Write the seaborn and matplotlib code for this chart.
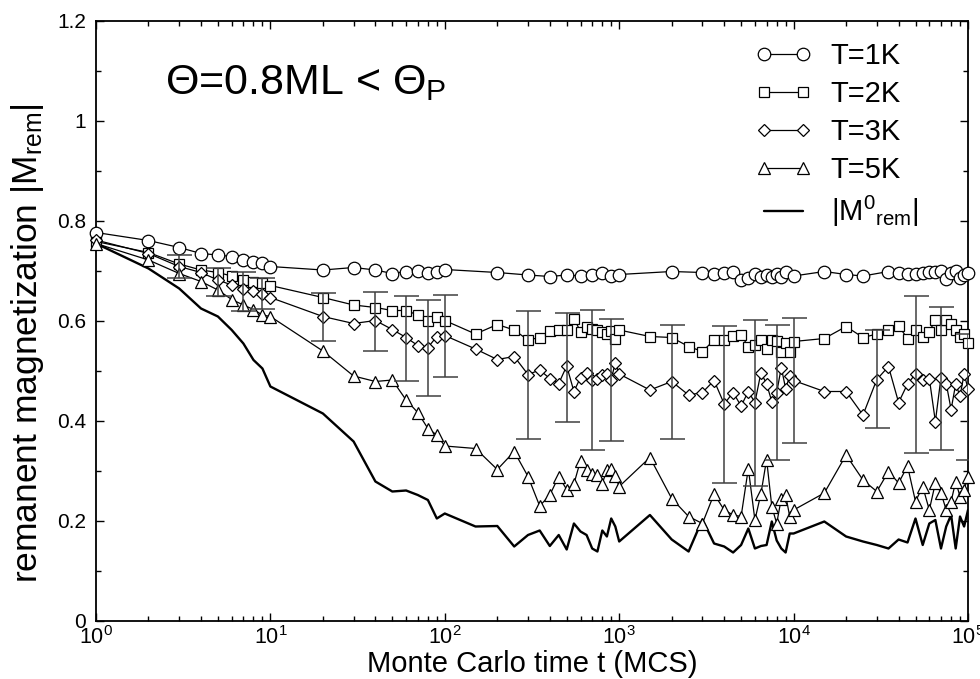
import matplotlib
matplotlib.use("Agg")
import numpy as np
import pandas as pd
import matplotlib.pyplot as plt
import seaborn as sns
from matplotlib.ticker import MultipleLocator, FixedLocator, FixedFormatter
from matplotlib.legend_handler import HandlerLine2D
from matplotlib.lines import Line2D

# ---------------- data ----------------
t_1K = [1, 2, 3, 4, 5, 6, 7, 8, 9, 10,
        20, 30, 40, 50, 60, 70, 80, 90, 100,
        200, 300, 400, 500, 600, 700, 800, 900, 1000,
        2000, 3000, 3500, 4000, 4500, 5000, 5500, 6000, 6500, 7000, 7500, 8000, 8500, 9000, 10000,
        15000, 20000, 25000, 35000, 40000, 45000, 50000, 55000, 60000, 65000, 70000, 75000,
        80000, 85000, 90000, 95000, 100000]
m_1K = [0.777, 0.761, 0.747, 0.735, 0.732, 0.729, 0.723, 0.719, 0.717, 0.709,
        0.702, 0.707, 0.702, 0.695, 0.699, 0.701, 0.697, 0.699, 0.703,
        0.697, 0.692, 0.689, 0.692, 0.690, 0.692, 0.697, 0.690, 0.693,
        0.699, 0.697, 0.694, 0.697, 0.699, 0.683, 0.687, 0.695, 0.688, 0.692, 0.688, 0.694, 0.688, 0.699, 0.690,
        0.699, 0.693, 0.690, 0.699, 0.696, 0.694, 0.695, 0.697, 0.698, 0.699, 0.701, 0.685,
        0.697, 0.701, 0.686, 0.693, 0.697]

t_grid = [1, 2, 3, 4, 5, 6, 7, 8, 9, 10,
          20, 30, 40, 50, 60, 70, 80, 90, 100,
          150, 200, 250, 300, 350, 400, 450, 500, 550, 600, 650, 700, 750, 800, 850, 900, 950, 1000,
          1500, 2000, 2500, 3000, 3500, 4000, 4500, 5000, 5500, 6000, 6500, 7000, 7500, 8000, 8500,
          9000, 9500, 10000,
          15000, 20000, 25000, 30000, 35000, 40000, 45000, 50000, 55000, 60000, 65000, 70000, 75000,
          80000, 85000, 90000, 95000, 100000]

m_2K = [0.759, 0.737, 0.714, 0.702, 0.697, 0.690, 0.682, 0.679, 0.677, 0.671,
        0.647, 0.632, 0.627, 0.621, 0.621, 0.612, 0.601, 0.609, 0.601,
        0.574, 0.593, 0.582, 0.562, 0.567, 0.581, 0.582, 0.583, 0.605, 0.579, 0.589, 0.585, 0.583,
        0.579, 0.574, 0.581, 0.565, 0.582,
        0.569, 0.567, 0.549, 0.539, 0.562, 0.563, 0.570, 0.572, 0.549, 0.552, 0.563, 0.545, 0.563,
        0.561, 0.539, 0.557, 0.539, 0.559,
        0.565, 0.589, 0.567, 0.574, 0.583, 0.590, 0.565, 0.582, 0.569, 0.579, 0.602, 0.583, 0.602,
        0.594, 0.582, 0.569, 0.575, 0.557]

m_3K = [0.762, 0.735, 0.709, 0.697, 0.682, 0.672, 0.665, 0.661, 0.654, 0.647,
        0.609, 0.595, 0.601, 0.583, 0.567, 0.551, 0.547, 0.569, 0.571,
        0.544, 0.523, 0.529, 0.493, 0.502, 0.485, 0.475, 0.510, 0.459, 0.487, 0.497, 0.483, 0.485,
        0.492, 0.495, 0.483, 0.517, 0.494,
        0.462, 0.479, 0.452, 0.457, 0.481, 0.434, 0.457, 0.430, 0.459, 0.437, 0.497, 0.474, 0.439,
        0.457, 0.507, 0.465, 0.490, 0.481,
        0.459, 0.459, 0.412, 0.483, 0.509, 0.437, 0.474, 0.494, 0.483, 0.485, 0.399, 0.487, 0.475,
        0.423, 0.474, 0.450, 0.494, 0.465]

m_5K = [0.755, 0.722, 0.695, 0.679, 0.662, 0.643, 0.632, 0.623, 0.612, 0.609,
        0.540, 0.490, 0.479, 0.482, 0.442, 0.417, 0.385, 0.372, 0.350,
        0.345, 0.303, 0.339, 0.289, 0.230, 0.252, 0.289, 0.263, 0.274, 0.321, 0.302, 0.295, 0.292,
        0.275, 0.302, 0.305, 0.290, 0.269,
        0.327, 0.245, 0.209, 0.195, 0.254, 0.222, 0.212, 0.209, 0.305, 0.202, 0.255, 0.323, 0.229,
        0.195, 0.245, 0.252, 0.209, 0.222,
        0.256, 0.332, 0.282, 0.259, 0.299, 0.276, 0.310, 0.239, 0.269, 0.222, 0.276, 0.256, 0.222,
        0.239, 0.279, 0.249, 0.262, 0.288]

m_rem0 = [0.755, 0.705, 0.665, 0.625, 0.609, 0.582, 0.555, 0.522, 0.505, 0.469,
          0.415, 0.359, 0.279, 0.259, 0.261, 0.252, 0.242, 0.205, 0.215,
          0.189, 0.190, 0.149, 0.172, 0.181, 0.150, 0.172, 0.143, 0.195, 0.179, 0.172, 0.145, 0.139,
          0.181, 0.169, 0.205, 0.189, 0.159,
          0.212, 0.163, 0.139, 0.203, 0.155, 0.149, 0.137, 0.152, 0.185, 0.145, 0.150, 0.152, 0.199,
          0.161, 0.145, 0.137, 0.175, 0.175,
          0.199, 0.169, 0.159, 0.152, 0.145, 0.163, 0.157, 0.205, 0.152, 0.195, 0.202, 0.145, 0.189,
          0.212, 0.145, 0.209, 0.189, 0.222]

# error bars (T=3K series)
err_t = [3, 5, 7, 9, 20, 40, 60, 80, 100, 300, 500, 700, 900, 2000, 4000, 6000, 8000, 10000,
         30000, 50000, 70000, 100000]
err_m = [0.709, 0.678, 0.659, 0.656, 0.609, 0.600, 0.566, 0.546, 0.571, 0.493, 0.508, 0.483,
         0.483, 0.479, 0.434, 0.437, 0.457, 0.481, 0.485, 0.494, 0.485, 0.449]
err_d = [0.023, 0.028, 0.038, 0.031, 0.048, 0.059, 0.085, 0.096, 0.082, 0.128, 0.109, 0.140,
         0.122, 0.114, 0.157, 0.166, 0.135, 0.125, 0.098, 0.157, 0.143, 0.126]

y_ticks = [0, 0.2, 0.4, 0.6, 0.8, 1.0, 1.2]
y_ticklabels = ["0", "0.2", "0.4", "0.6", "0.8", "1", "1.2"]

# ---------------- style ----------------
sns.set_style("ticks")
plt.rcParams['font.family'] = ['Liberation Sans', 'DejaVu Sans']
plt.rcParams['mathtext.fontset'] = 'custom'
plt.rcParams['mathtext.rm'] = 'Liberation Sans'
plt.rcParams['mathtext.it'] = 'Liberation Sans:italic'
plt.rcParams['mathtext.bf'] = 'Liberation Sans:bold'
plt.rcParams['axes.edgecolor'] = 'black'
plt.rcParams['xtick.color'] = 'black'
plt.rcParams['ytick.color'] = 'black'
plt.rcParams['text.color'] = 'black'
plt.rcParams['axes.labelcolor'] = 'black'

fig = plt.figure(figsize=(9.8, 6.79), dpi=100)
ax = fig.add_axes([96 / 980, 1 - 621 / 679, 872 / 980, 600 / 679])

common = dict(color='black', linewidth=0.9, markerfacecolor='white',
              markeredgecolor='black', markeredgewidth=0.9, errorbar=None, clip_on=False)

sns.lineplot(x=t_grid, y=m_rem0, ax=ax, color='black', linewidth=1.7, errorbar=None,
             label='|M$^{0}$$_{\\rm rem}$|', zorder=2)
sns.lineplot(x=t_1K, y=m_1K, ax=ax, marker='o', markersize=9, label='T=1K', zorder=3, **common)
sns.lineplot(x=t_grid, y=m_2K, ax=ax, marker='s', markersize=7.5, label='T=2K', zorder=3, **common)
sns.lineplot(x=t_grid, y=m_3K, ax=ax, marker='D', markersize=6, label='T=3K', zorder=3, **common)
sns.lineplot(x=t_grid, y=m_5K, ax=ax, marker='^', markersize=8.5, label='T=5K', zorder=3, **common)

ax.errorbar(err_t, err_m, yerr=err_d, fmt='none', ecolor='0.25', elinewidth=1.1,
            capsize=9, capthick=1.1, zorder=4)

ax.set_xscale('log')
ax.set_xlim(1, 1e5)
ax.set_ylim(0, 1.2)
ax.yaxis.set_major_locator(FixedLocator(y_ticks))
ax.yaxis.set_major_formatter(FixedFormatter(y_ticklabels))
ax.yaxis.set_minor_locator(MultipleLocator(0.1))

for sp in ax.spines.values():
    sp.set_visible(True)
    sp.set_linewidth(1.3)
    sp.set_color('black')

ax.tick_params(which='both', direction='in', top=True, right=True, width=1)
ax.tick_params(which='major', length=6)
ax.tick_params(which='minor', length=3.5)
ax.tick_params(axis='x', labelsize=15.5, pad=4)
ax.tick_params(axis='y', labelsize=15, pad=7)

ax.set_xlabel('Monte Carlo time t (MCS)', fontsize=21)
ax.set_ylabel('remanent magnetization |M$_{\\rm rem}$|', fontsize=25.5)
ax.xaxis.label.set_verticalalignment('baseline')
ax.xaxis.set_label_coords(0.5, -0.085)
ax.yaxis.set_label_coords(-0.057, 0.463)

ax.text(0.079, 0.878, 'Θ=0.8ML < Θ$_{\\rm P}$', transform=ax.transAxes,
        fontsize=31, ha='left', va='baseline')

h, l = ax.get_legend_handles_labels()
order = [l.index(k) for k in ['T=1K', 'T=2K', 'T=3K', 'T=5K', '|M$^{0}$$_{\\rm rem}$|']]
ax.legend([h[i] for i in order], [l[i] for i in order], loc='upper right',
          bbox_to_anchor=(0.943, 0.965), borderaxespad=0, borderpad=0,
          frameon=False, numpoints=2, handlelength=1.35, handletextpad=0.95,
          labelspacing=0.34, fontsize=21,
          handler_map={Line2D: HandlerLine2D(marker_pad=0)})

fig.savefig('out.png', dpi=100)
